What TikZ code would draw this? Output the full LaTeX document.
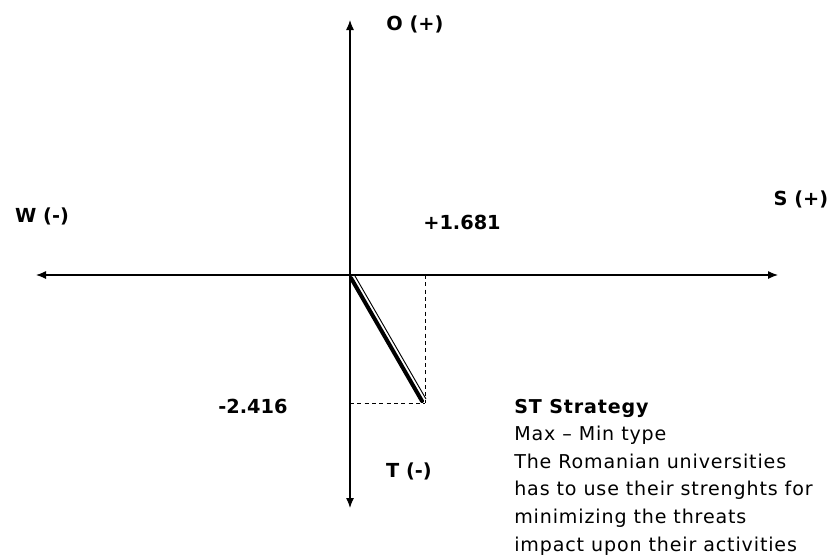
\documentclass[tikz,border=0pt]{standalone}
\usepackage{fontspec}
\setmainfont{DejaVu Sans}
\usetikzlibrary{arrows.meta,positioning,calc}
\tikzset{
  axis/.style={
    -{Latex[length=7.5pt,width=6pt]},
    line width=0.9pt,
    draw=black
  },
  axislabel/.style={
    font=\bfseries\fontsize{14.5}{16}\selectfont,
    inner sep=0pt,
    anchor=base
  },
  guide/.style={
    dashed,
    dash pattern=on 3pt off 2.5pt,
    line width=0.7pt
  },
  vector/.style={
    line width=3pt,
    line cap=round
  },
  notetext/.style={
    align=left,
    inner sep=0pt,
    anchor=base west,
    font=\addfontfeatures{LetterSpace=4.5}\fontsize{14.3}{20.7}\selectfont
  }
}
\begin{document}
\begin{tikzpicture}[x=0.75pt,y=-0.75pt]
\useasboundingbox (0,0) rectangle (835,558);
% axes
\coordinate (orig) at (350,275);
\coordinate (east) at (778,275);
\coordinate (west) at (36,275);
\coordinate (north) at (350,20);
\coordinate (south) at (350,508);
\draw[axis] (orig) -- (east);
\draw[axis] (orig) -- (west);
\draw[axis] (orig) -- (north);
\draw[axis] (orig) -- (south);
% labels of the axes
\node[axislabel] (opp) at (415,30) {O (+)};
\node[axislabel] (weak) at (42,222) {W (-)};
\node[axislabel] (str) at (801,205) {S (+)};
\node[axislabel] (thr) at (409,477) {T (-)};
\node[axislabel] (sval) at (462,229) {+1.681};
\node[axislabel] (tval) at (253,413) {-2.416};
% the strategy point
\coordinate (pt) at (425,403);
\coordinate (ptx) at (425,275);
\coordinate (pty) at (350,403);
\draw[guide] (ptx) -- (pt);
\draw[guide] (pty) -- (pt);
\draw[vector] (351,278) -- (422,401);
\draw[line width=0.7pt] ($(351,278)+(4,-2)$) -- ($(422,401)+(4,-2)$);
% note (anchored at the baseline of its last line)
\node[notetext] (note) at (514,551) {\textbf{ST Strategy}\\
Max -- Min type\\
The Romanian universities\\
has to use their strenghts for\\
minimizing the threats\\
impact upon their activities};
\end{tikzpicture}
\end{document}
